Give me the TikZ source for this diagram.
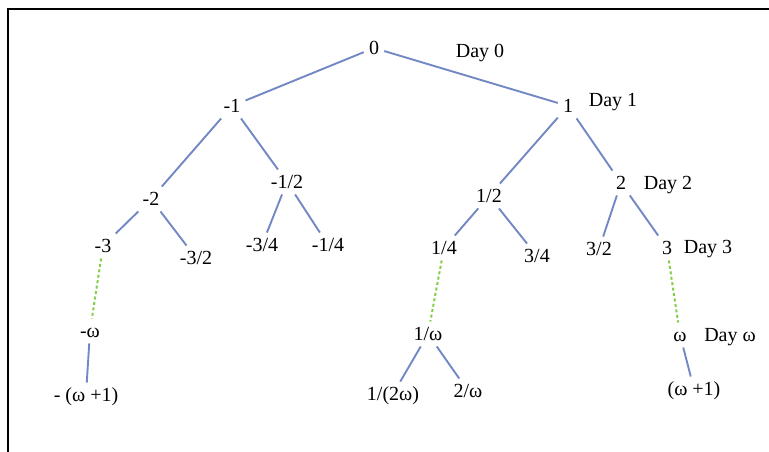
\documentclass[tikz,border=0pt]{standalone}
\usepackage{fontspec}
\setmainfont{Liberation Serif}
\definecolor{treeblue}{RGB}{114,136,196}
\definecolor{limbgreen}{RGB}{134,206,74}

\begin{document}
\begin{tikzpicture}[x=1pt,y=-1pt,
    every node/.style={font=\fontsize{20}{24}\selectfont, inner sep=5pt, text height=13.5pt, text depth=1pt},
    edge/.style={treeblue, line width=1.9pt},
    limb/.style={limbgreen, line width=2pt, dash pattern=on 3pt off 2.5pt}]

        \useasboundingbox (0,0) rectangle (769,452);
        \draw[line width=2pt] (8,452) -- (8,9) -- (769,9);

        % day 0 and 1
        \node (z) at (374,48) {0};
        \node (m1) at (232,106) {-1};
        \node (p1) at (568,106) {1};

        % day 2
        \node (m2) at (151,199) {-2};
        \node (mh) at (287,182) {-1/2};
        \node (ph) at (489,196) {1/2};
        \node (p2) at (621,183) {2};

        % day 3
        \node (m3) at (103,246) {-3};
        \node (m3h) at (196,258) {-3/2};
        \node (m34) at (262,245) {-3/4};
        \node (m14) at (328,245) {-1/4};
        \node (p14) at (444,248) {1/4};
        \node (p34) at (537,256) {3/4};
        \node (p32) at (599,249) {3/2};
        \node (p3) at (667,248) {3};

        % day omega and beyond
        \node (mw) at (90,331) {-ω};
        \node (mw1) at (86,395) {- (ω +1)};
        \node (iw) at (428,334) {1/ω};
        \node (i2w) at (393,394) {1/(2ω)};
        \node (tw) at (468,391) {2/ω};
        \node (w) at (680,335) {ω};
        \node (w1) at (694,389) {(ω +1)};

        \node (d0) at (480,51) {Day 0};
        \node (d1) at (613,100) {Day 1};
        \node (d2) at (668,183) {Day 2};
        \node (d3) at (708,247) {Day 3};
        \node (dw) at (730,335) {Day ω};

        \draw[edge] (z) -- (m1);
        \draw[edge] (z) -- (p1);
        \draw[edge] (m1) -- (m2);
        \draw[edge] (m1) -- (mh);
        \draw[edge] (p1) -- (ph);
        \draw[edge] (p1) -- (p2);
        \draw[edge] (m2) -- (m3);
        \draw[edge] (m2) -- (m3h);
        \draw[edge] (mh) -- (m34);
        \draw[edge] (mh) -- (m14);
        \draw[edge] (ph) -- (p14);
        \draw[edge] (ph) -- (p34);
        \draw[edge] (p2) -- (p32);
        \draw[edge] (p2) -- (p3);
        \draw[limb] (m3) -- (mw);
        \draw[limb] (p14) -- (iw);
        \draw[limb] (p3) -- (w);
        \draw[edge] (mw) -- (mw1);
        \draw[edge] (iw) -- (i2w);
        \draw[edge] (iw) -- (tw);
        \draw[edge] (w) -- (w1);

    \end{tikzpicture}
\end{document}
